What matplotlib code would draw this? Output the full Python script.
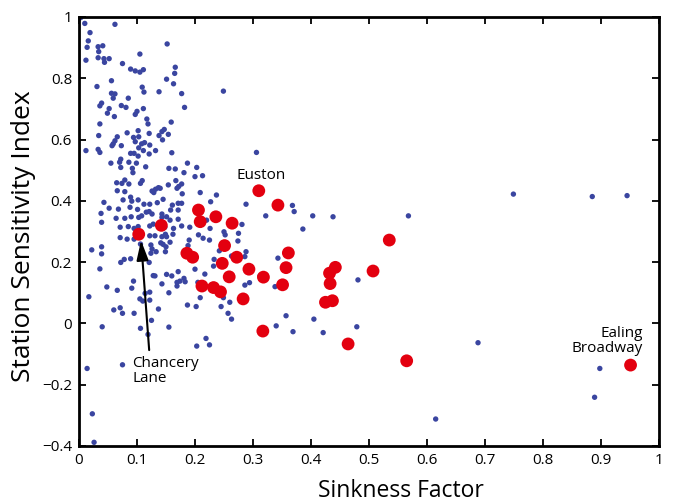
import matplotlib
matplotlib.use("Agg")
import matplotlib.pyplot as plt
import numpy as np

# All stations (blue)
blue_x = [0.003,0.010,0.062,0.019,0.016,0.014,0.033,0.041,0.034,0.152,0.105,0.012,0.033,0.043,0.052,0.044,0.075,0.089,0.097,0.105,
          0.111,0.056,0.151,0.031,0.109,0.112,0.138,0.056,0.062,0.059,0.085,0.039,0.036,0.073,0.081,0.111,0.052,0.049,0.100,0.097,
          0.061,0.117,0.036,0.119,0.166,0.165,0.163,0.177,0.249,0.182,0.159,0.034,0.083,0.102,0.121,0.143,0.138,0.154,0.066,0.094,
          0.103,0.062,0.059,0.073,0.097,0.108,0.113,0.122,0.103,0.012,0.033,0.036,0.057,0.132,0.111,0.089,0.095,0.121,0.102,0.072,
          0.070,0.055,0.086,0.099,0.092,0.072,0.115,0.093,0.155,0.109,0.079,0.065,0.074,0.086,0.106,0.132,0.137,0.066,0.079,0.126,
          0.129,0.089,0.076,0.102,0.091,0.043,0.112,0.122,0.135,0.052,0.038,0.068,0.088,0.101,0.116,0.121,0.126,0.108,0.103,0.064,
          0.079,0.090,0.143,0.151,0.039,0.071,0.085,0.122,0.128,0.147,0.144,0.160,0.306,0.187,0.166,0.203,0.181,0.200,0.213,0.167,
          0.177,0.172,0.154,0.140,0.169,0.178,0.209,0.237,0.145,0.227,0.161,0.171,0.177,0.158,0.171,0.143,0.288,0.157,0.171,0.220,
          0.281,0.148,0.163,0.177,0.191,0.226,0.095,0.102,0.071,0.083,0.095,0.122,0.131,0.143,0.151,0.106,0.124,0.141,0.145,0.022,
          0.039,0.039,0.126,0.133,0.149,0.124,0.078,0.072,0.089,0.121,0.036,0.128,0.131,0.151,0.094,0.143,0.048,0.091,0.066,0.122,
          0.114,0.155,0.017,0.105,0.110,0.122,0.071,0.060,0.075,0.095,0.137,0.040,0.106,0.119,0.155,0.125,0.144,0.250,0.252,0.275,
          0.149,0.162,0.206,0.214,0.225,0.190,0.274,0.157,0.150,0.188,0.242,0.263,0.288,0.286,0.233,0.232,0.200,0.171,0.217,0.160,
          0.181,0.174,0.183,0.169,0.169,0.205,0.294,0.286,0.209,0.249,0.260,0.187,0.202,0.245,0.257,0.263,0.322,0.368,0.371,0.403,
          0.438,0.386,0.343,0.312,0.338,0.481,0.357,0.340,0.369,0.405,0.421,0.479,0.219,0.225,0.203,0.568,0.749,0.885,0.945,0.688,
          0.898,0.889,0.615,0.014,0.075,0.023,0.026]
blue_y = [0.998,0.979,0.976,0.949,0.922,0.901,0.903,0.906,0.887,0.912,0.879,0.859,0.867,0.864,0.864,0.852,0.848,0.830,0.824,0.820,
          0.828,0.792,0.797,0.773,0.771,0.755,0.756,0.751,0.749,0.735,0.735,0.719,0.710,0.711,0.705,0.701,0.701,0.686,0.692,0.682,
          0.675,0.667,0.651,0.651,0.836,0.816,0.782,0.750,0.758,0.705,0.657,0.613,0.622,0.629,0.620,0.626,0.613,0.617,0.609,0.607,
          0.609,0.596,0.586,0.580,0.593,0.586,0.590,0.582,0.573,0.564,0.568,0.558,0.580,0.564,0.564,0.555,0.555,0.553,0.546,0.536,
          0.526,0.523,0.526,0.523,0.506,0.509,0.511,0.492,0.506,0.466,0.468,0.459,0.457,0.455,0.457,0.438,0.443,0.433,0.430,0.432,
          0.427,0.412,0.403,0.403,0.399,0.395,0.389,0.389,0.394,0.376,0.359,0.373,0.379,0.372,0.363,0.365,0.357,0.351,0.346,0.343,
          0.343,0.348,0.346,0.348,0.330,0.314,0.316,0.318,0.324,0.633,0.599,0.557,0.558,0.523,0.504,0.509,0.492,0.479,0.482,0.466,
          0.455,0.447,0.452,0.441,0.441,0.423,0.427,0.419,0.405,0.397,0.386,0.392,0.392,0.370,0.370,0.357,0.389,0.337,0.340,0.337,
          0.323,0.314,0.310,0.318,0.314,0.310,0.310,0.316,0.280,0.275,0.275,0.286,0.286,0.283,0.283,0.259,0.256,0.263,0.258,0.240,
          0.250,0.227,0.243,0.234,0.234,0.229,0.209,0.199,0.211,0.199,0.178,0.156,0.155,0.160,0.138,0.129,0.119,0.115,0.108,0.102,
          0.098,0.100,0.087,0.080,0.073,0.076,0.051,0.044,0.033,0.033,0.047,-0.011,-0.016,-0.036,-0.012,0.010,0.310,0.299,0.289,0.294,
          0.291,0.291,0.289,0.278,0.272,0.272,0.269,0.265,0.250,0.254,0.237,0.220,0.234,0.218,0.209,0.187,0.177,0.169,0.161,0.155,
          0.147,0.138,0.136,0.134,0.122,0.134,0.133,0.125,0.084,0.084,0.069,0.060,0.055,0.055,0.033,0.014,0.351,0.385,0.365,0.351,
          0.348,0.308,0.213,0.155,0.120,0.142,0.025,-0.008,-0.027,0.014,-0.030,-0.011,-0.049,-0.070,-0.074,0.351,0.422,0.414,0.417,-0.063,
          -0.147,-0.241,-0.312,-0.147,-0.135,-0.295,-0.388]

# Highlighted stations (red)
red_x = [0.103,0.142,0.206,0.209,0.236,0.264,0.186,0.196,0.251,0.272,0.247,0.293,0.259,0.318,0.212,0.232,0.244,0.283,
         0.310,0.343,0.361,0.357,0.351,0.317,0.442,0.432,0.433,0.437,0.425,0.464,0.507,0.535,0.565,0.951]
red_y = [0.291,0.320,0.370,0.332,0.348,0.327,0.229,0.216,0.254,0.216,0.196,0.177,0.152,0.151,0.122,0.117,0.103,0.080,
         0.433,0.386,0.230,0.182,0.126,-0.025,0.183,0.164,0.130,0.074,0.069,-0.067,0.171,0.272,-0.122,-0.136]

x_ticks = [0, 0.1, 0.2, 0.3, 0.4, 0.5, 0.6, 0.7, 0.8, 0.9, 1]
x_tick_labels = ["0", "0.1", "0.2", "0.3", "0.4", "0.5", "0.6", "0.7", "0.8", "0.9", "1"]
y_ticks = [-0.4, -0.2, 0, 0.2, 0.4, 0.6, 0.8, 1]
y_tick_labels = ["\u22120.4", "\u22120.2", "0", "0.2", "0.4", "0.6", "0.8", "1"]

plt.rcParams['font.family'] = ['Open Sans', 'DejaVu Sans']

fig = plt.figure(figsize=(6.74, 5.04), dpi=100)
ax = fig.add_axes([0.1172, 0.1151, 0.8605, 0.8512])

ax.scatter(blue_x, blue_y, s=15, color='#3a45a0', edgecolors='none', zorder=2)
ax.scatter(red_x, red_y, s=85, color='#e3000f', edgecolors='none', zorder=3)

ax.set_xlim(0, 1)
ax.set_ylim(-0.4, 1)
ax.set_xticks(x_ticks)
ax.set_xticklabels(x_tick_labels)
ax.set_yticks(y_ticks)
ax.set_yticklabels(y_tick_labels)
ax.tick_params(direction='in', top=True, right=True, length=5, width=1.3,
               labelsize=11, pad=5)
for sp in ax.spines.values():
    sp.set_linewidth(2)

ax.set_xlabel("Sinkness Factor", fontsize=16.5)
ax.xaxis.label.set_va('center')
ax.xaxis.set_label_coords(0.555, -0.105)
ax.set_ylabel("Station Sensitivity Index", fontsize=19)
ax.yaxis.label.set_va('center')
ax.yaxis.set_label_coords(-0.095, 0.488)

ax.text(0.3135, 0.482, "Euston", fontsize=11, ha='center', va='center', zorder=4)
ax.text(0.972, -0.0575, "Ealing\nBroadway", fontsize=11, ha='right', va='center',
        multialignment='right', linespacing=1.0, zorder=4)
ax.text(0.092, -0.106, "Chancery\nLane", fontsize=11, ha='left', va='top',
        linespacing=1.0, zorder=4)
ax.annotate('', xy=(0.107, 0.271), xytext=(0.121, -0.087),
            arrowprops=dict(arrowstyle='-|>,head_length=0.6,head_width=0.18',
                            color='black', lw=1.5, mutation_scale=20,
                            shrinkA=0, shrinkB=0), zorder=5)

fig.savefig("out.png", dpi=100)
